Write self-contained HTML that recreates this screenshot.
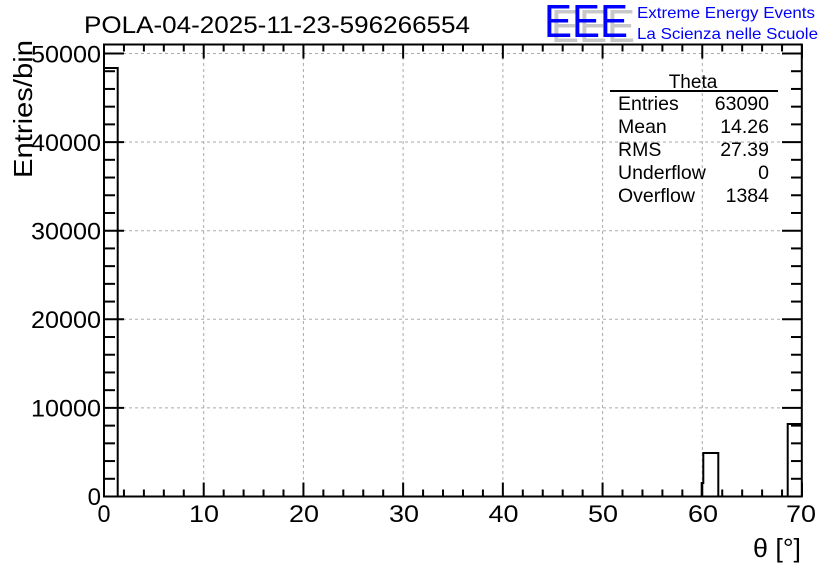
<!DOCTYPE html>
<html><head><meta charset="utf-8"><style>
body{margin:0;background:#fff}
svg{display:block;font-family:"Liberation Sans",sans-serif}
</style></head><body>
<svg width="836" height="572" viewBox="0 0 836 572" xmlns="http://www.w3.org/2000/svg">
<rect width="836" height="572" fill="#fff"/>
<g stroke="#aaa" stroke-width="1" stroke-dasharray="3,3">
<line x1="203.7" y1="45" x2="203.7" y2="496"/>
<line x1="303.4" y1="45" x2="303.4" y2="496"/>
<line x1="403.1" y1="45" x2="403.1" y2="496"/>
<line x1="502.9" y1="45" x2="502.9" y2="496"/>
<line x1="602.6" y1="45" x2="602.6" y2="496"/>
<line x1="702.3" y1="45" x2="702.3" y2="496"/>
<line x1="105" y1="53.5" x2="801" y2="53.5"/>
<line x1="105" y1="142" x2="801" y2="142"/>
<line x1="105" y1="230.7" x2="801" y2="230.7"/>
<line x1="105" y1="319.3" x2="801" y2="319.3"/>
<line x1="105" y1="407.9" x2="801" y2="407.9"/>
</g>
<g fill="none" stroke="#000" stroke-width="2">
<path d="M104,68 H117.7 V496.5"/>
<path d="M701.7,496.5 V483 H703.3 V453 H718.3 V496.5"/>
<path d="M787.7,496.5 V424 H802"/>
</g>
<g stroke="#000" stroke-width="2" id="ticks"></g>
<rect x="104" y="44.5" width="697.8" height="452" fill="none" stroke="#000" stroke-width="2"/>
<g font-size="24" fill="#000" text-anchor="middle">
<text x="104" y="522" textLength="13" lengthAdjust="spacingAndGlyphs">0</text>
<text x="204" y="522" textLength="30" lengthAdjust="spacingAndGlyphs">10</text>
<text x="304" y="522" textLength="30" lengthAdjust="spacingAndGlyphs">20</text>
<text x="404" y="522" textLength="30" lengthAdjust="spacingAndGlyphs">30</text>
<text x="503.5" y="522" textLength="30" lengthAdjust="spacingAndGlyphs">40</text>
<text x="603" y="522" textLength="30" lengthAdjust="spacingAndGlyphs">50</text>
<text x="703" y="522" textLength="30" lengthAdjust="spacingAndGlyphs">60</text>
<text x="801" y="522" textLength="30" lengthAdjust="spacingAndGlyphs">70</text>
</g>
<g font-size="24" fill="#000" text-anchor="end">
<text x="101" y="505">0</text>
<text x="101" y="416.5" textLength="70" lengthAdjust="spacingAndGlyphs">10000</text>
<text x="101" y="328" textLength="70" lengthAdjust="spacingAndGlyphs">20000</text>
<text x="101" y="239.5" textLength="70" lengthAdjust="spacingAndGlyphs">30000</text>
<text x="101" y="151" textLength="70" lengthAdjust="spacingAndGlyphs">40000</text>
<text x="101" y="62.5" textLength="70" lengthAdjust="spacingAndGlyphs">50000</text>
</g>
<text x="753" y="557" font-size="26" textLength="48" lengthAdjust="spacingAndGlyphs">θ [°]</text>
<text transform="translate(32,178) rotate(-90)" font-size="26" textLength="138" lengthAdjust="spacingAndGlyphs">Entries/bin</text>
<text x="84" y="33" font-size="24" textLength="386" lengthAdjust="spacingAndGlyphs">POLA-04-2025-11-23-596266554</text>
<g font-family="'Liberation Sans',sans-serif" font-size="46">
<text x="551" y="42" fill="#c8c8c8" textLength="84" lengthAdjust="spacingAndGlyphs">EEE</text>
<text x="544" y="37" fill="#0000ff" textLength="84" lengthAdjust="spacingAndGlyphs">EEE</text>
</g>
<text x="637" y="18" font-size="16" fill="#0000ff" textLength="178" lengthAdjust="spacingAndGlyphs">Extreme Energy Events</text>
<text x="637" y="39" font-size="16" fill="#0000ff" textLength="181" lengthAdjust="spacingAndGlyphs">La Scienza nelle Scuole</text>
<text x="693" y="88" font-size="19" text-anchor="middle">Theta</text>
<line x1="610" y1="91" x2="778" y2="91" stroke="#000" stroke-width="2"/>
<g font-size="19.5">
<text x="618" y="110">Entries</text><text x="769" y="110" text-anchor="end">63090</text>
<text x="618" y="133">Mean</text><text x="769" y="133" text-anchor="end">14.26</text>
<text x="618" y="156">RMS</text><text x="769" y="156" text-anchor="end">27.39</text>
<text x="618" y="179">Underflow</text><text x="769" y="179" text-anchor="end">0</text>
<text x="618" y="202">Overflow</text><text x="769" y="202" text-anchor="end">1384</text>
</g>
</svg>
<script>
var g=document.getElementById('ticks'),s='';
for(var i=0;i<=35;i++){var x=104+i*2*9.9714,L=(i%5==0)?14:7;
s+='<line x1="'+x+'" y1="496.5" x2="'+x+'" y2="'+(496.5-L)+'"/>';
s+='<line x1="'+x+'" y1="44.5" x2="'+x+'" y2="'+(44.5+L)+'"/>';}
for(var j=0;j<=25;j++){var y=496.5-j*2000*0.00886,L=(j%5==0)?20:11;
s+='<line x1="104" y1="'+y+'" x2="'+(104+L)+'" y2="'+y+'"/>';
s+='<line x1="802" y1="'+y+'" x2="'+(802-L)+'" y2="'+y+'"/>';}
g.innerHTML=s;
</script>
</body></html>
